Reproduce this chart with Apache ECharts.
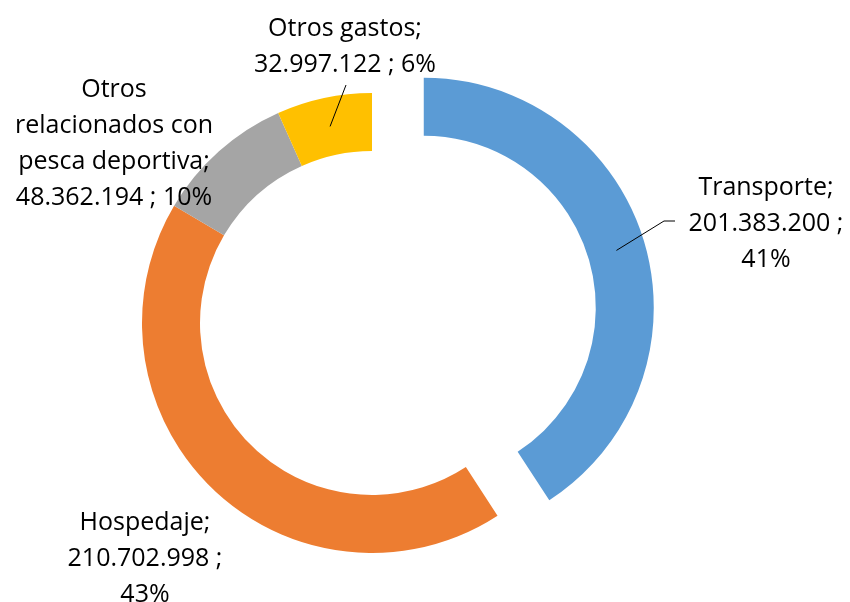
<!DOCTYPE html>
<html>
<head>
<meta charset="utf-8">
<script src="https://cdn.jsdelivr.net/npm/echarts@6/dist/echarts.min.js"></script>
<style>html,body{margin:0;padding:0;background:#fff;}#c{width:850px;height:602px;}</style>
</head>
<body>
<div id="c"></div>
<script>
// ---- data ----
var categories = ['Transporte', 'Hospedaje', 'Otros relacionados con pesca deportiva', 'Otros gastos'];
var values = [201383200, 210702998, 48362194, 32997122];
var percentLabels = ['41%', '43%', '10%', '6%'];
var colors = ['#5B9BD5', '#ED7D31', '#A5A5A5', '#FFC000'];

// ---- label styling / layout (not data) ----
var displayNames = ['Transporte', 'Hospedaje', 'Otros\nrelacionados con\npesca deportiva', 'Otros gastos'];
var valueSeps = [' ;\n', ' ;\n', ' ; ', ' ; '];
var labelPos = [[766, 224], [145, 559], [114, 144], [345, 47]];
var leaderEnds = [[[664, 221], [675, 221]], null, null, [[346, 85], [346, 85]]];
var explodedIndex = 0;
var explodeOffset = 54;
var pieCenter = [372, 323];
var pieRadius = [172, 230];

function fmtNum(v) {
  return String(v).replace(/\B(?=(\d{3})+(?!\d))/g, '.');
}

var chart = echarts.init(document.getElementById('c'), null, {renderer: 'canvas'});

var ringData = categories.map(function (c, i) {
  return {
    name: c,
    value: values[i],
    selected: i === explodedIndex,
    itemStyle: {color: colors[i]}
  };
});

var labelData = categories.map(function (c, i) {
  return {
    name: c,
    value: values[i],
    labelLine: {show: !!leaderEnds[i]}
  };
});

chart.setOption({
  animation: false,
  backgroundColor: '#ffffff',
  series: [{
    type: 'pie',
    silent: true,
    z: 2,
    center: pieCenter,
    radius: pieRadius,
    startAngle: 90,
    clockwise: true,
    selectedMode: 'single',
    selectedOffset: explodeOffset,
    emphasis: {disabled: true},
    itemStyle: {borderWidth: 0},
    label: {show: false},
    labelLine: {show: false},
    data: ringData
  }, {
    type: 'pie',
    silent: true,
    z: 6,
    center: pieCenter,
    radius: pieRadius,
    startAngle: 90,
    clockwise: true,
    selectedMode: false,
    avoidLabelOverlap: false,
    emphasis: {disabled: true},
    itemStyle: {color: 'rgba(0,0,0,0)', borderWidth: 0},
    label: {
      show: true,
      position: 'outside',
      color: '#000',
      fontFamily: 'Open Sans',
      fontSize: 25,
      lineHeight: 36,
      align: 'center',
      formatter: function (p) {
        var i = p.dataIndex;
        return displayNames[i] + ';\n' + fmtNum(values[i]) + valueSeps[i] + percentLabels[i];
      }
    },
    labelLine: {
      show: true,
      lineStyle: {color: '#000', width: 1}
    },
    labelLayout: function (p) {
      var i = p.dataIndex;
      var res = {x: labelPos[i][0], y: labelPos[i][1], align: 'center', verticalAlign: 'middle'};
      if (leaderEnds[i]) {
        var lay = chart.getModel().getSeriesByIndex(1).getData().getItemLayout(i);
        var mid = (lay.startAngle + lay.endAngle) / 2;
        var rm = (lay.r + lay.r0) / 2;
        var cx = lay.cx, cy = lay.cy;
        if (i === explodedIndex) {
          cx += Math.cos(mid) * explodeOffset;
          cy += Math.sin(mid) * explodeOffset;
        }
        var p0 = [cx + Math.cos(mid) * rm, cy + Math.sin(mid) * rm];
        res.labelLinePoints = [p0, leaderEnds[i][0], leaderEnds[i][1]];
      }
      return res;
    },
    data: labelData
  }]
});
</script>
</body>
</html>
